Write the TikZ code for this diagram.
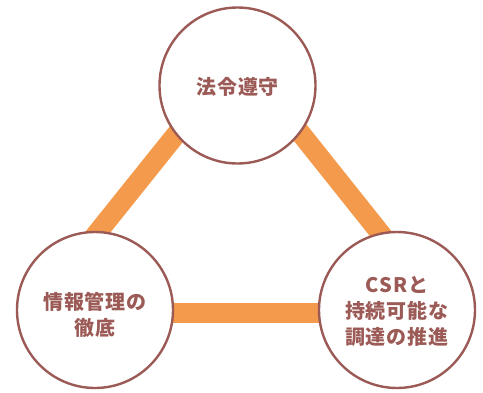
\documentclass[tikz,border=0pt]{standalone}
\usepackage{fontspec}
\newfontfamily\jp{Noto Sans CJK JP}[LetterSpace=5]
\definecolor{brn}{HTML}{9B5A55}
\definecolor{org}{HTML}{F39A4C}
\begin{document}
\begin{tikzpicture}[x=1pt,y=-1pt,
  circ/.style={circle,draw=brn,line width=2.4pt,fill=white,minimum size=156pt,inner sep=0pt},
  lbl/.style={text=brn,font=\jp\bfseries\fontsize{20}{26}\selectfont,align=center},
  bar/.style={draw=org,line width=20pt}]
\useasboundingbox (0,0) rectangle (483,392);
\coordinate (vt) at (239,56);
\coordinate (vl) at (33,313);
\coordinate (vr) at (444,313);
\draw[bar] (vt) -- (vl);
\draw[bar] (vt) -- (vr);
\draw[bar] (vl) -- (vr);
\node[circ] (t) at (237.5,85.5) {};
\node[circ] (l) at (95,310) {};
\node[circ] (r) at (397,310) {};
\node[lbl] (tl) at ([yshift=-1.5pt]t.center) {法令遵守};
\node[lbl] (ll) at ([yshift=-5pt]l.center) {情報管理の\\徹底};
\node[lbl] (rl) at ([yshift=-1pt]r.center) {CSRと\\持続可能な\\調達の推進};
\end{tikzpicture}
\end{document}
